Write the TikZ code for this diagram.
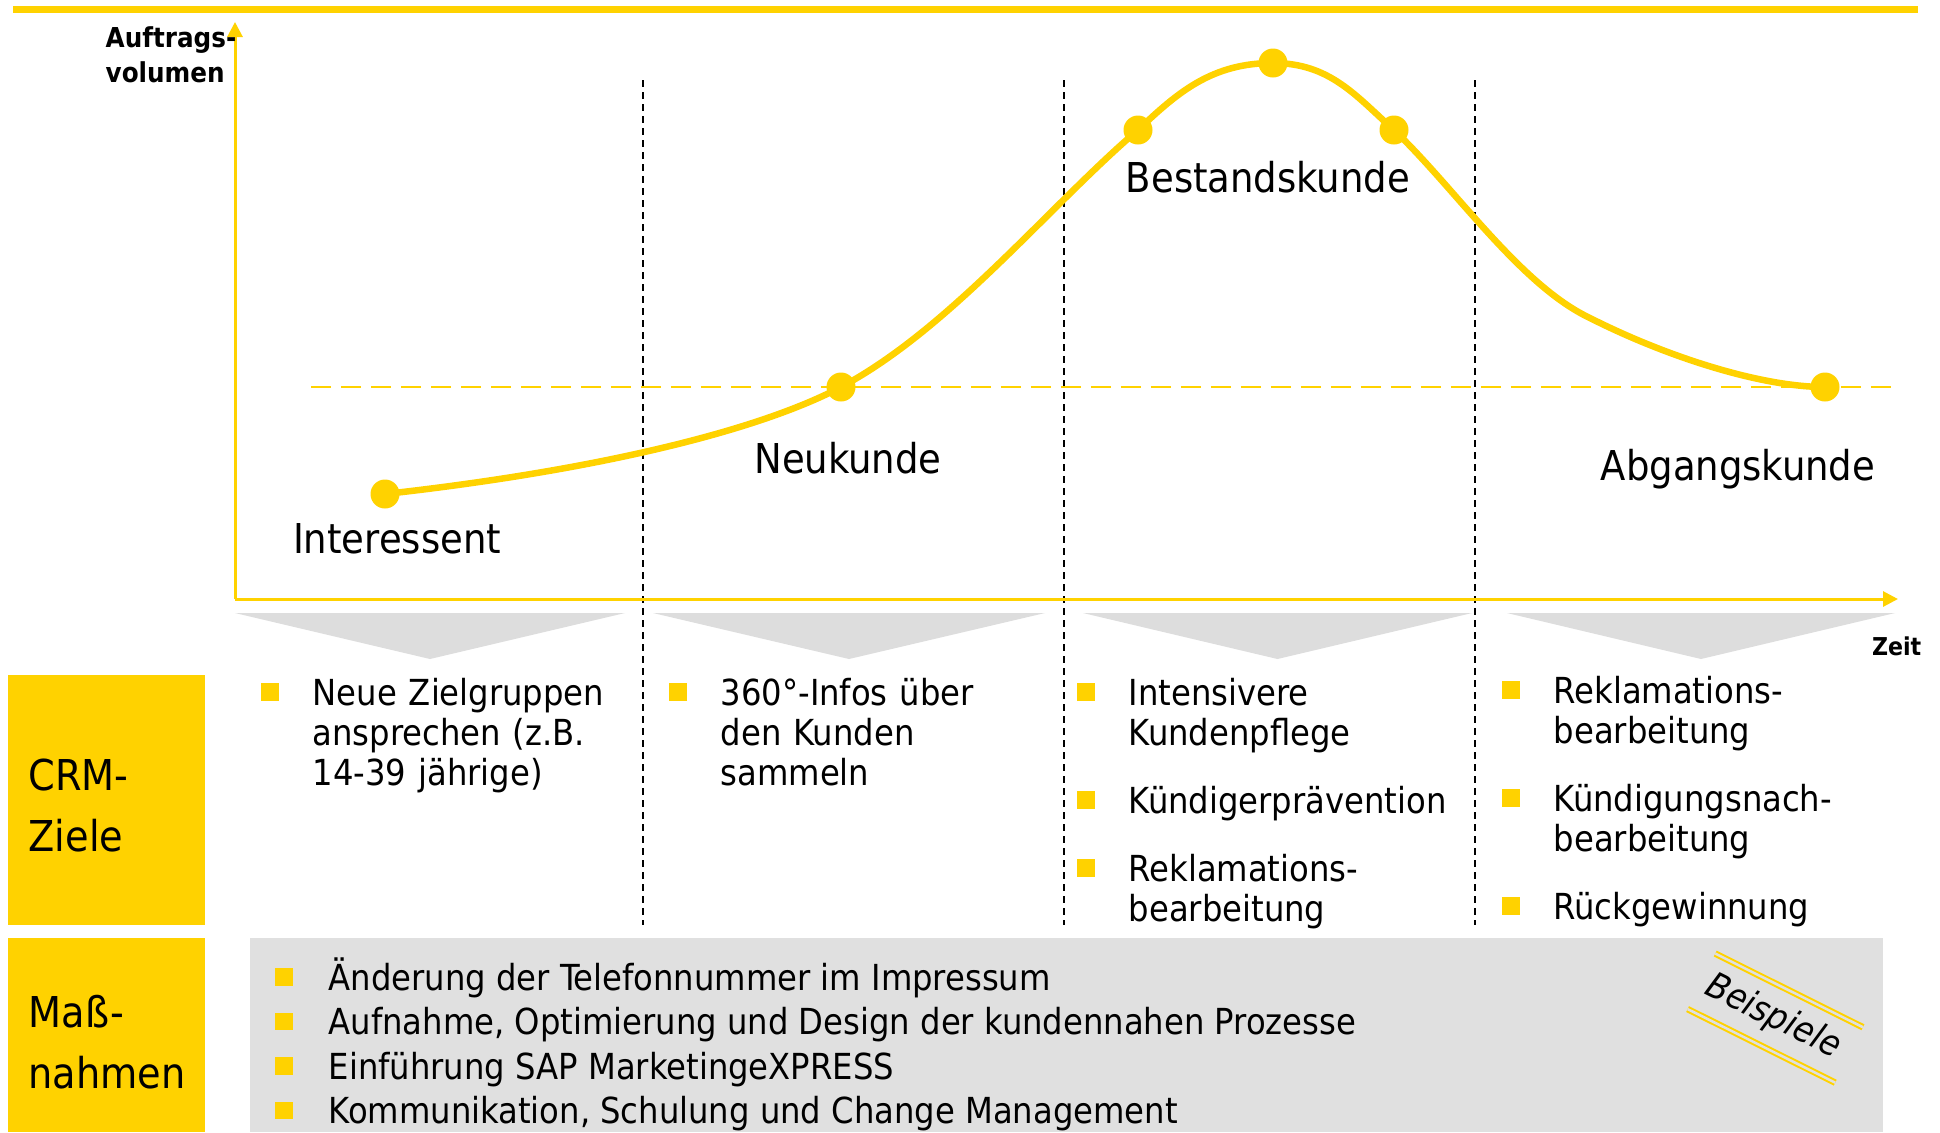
\documentclass[tikz,border=0pt]{standalone}
\usepackage{fontspec}
\setmainfont{DejaVu Sans Condensed}
\usetikzlibrary{arrows.meta}
\definecolor{crmgelb}{HTML}{FFD200}
\definecolor{crmgrau}{HTML}{E0E0E0}
\definecolor{pfeilgrau}{HTML}{DDDDDD}

\tikzset{
  achse/.style={crmgelb,line width=0.3mm,-{Triangle[length=1.5mm,width=1.5mm]}},
  kurve/.style={crmgelb,line width=0.65mm},
  punkt/.style={circle,fill=crmgelb,inner sep=0pt,minimum size=2.9mm},
  trenner/.style={black,line width=0.15mm,dash pattern=on 0.7mm off 0.5mm},
  phase/.style={inner sep=0pt,anchor=base,font=\fontsize{11.7}{14}\selectfont},
  quadrat/.style={fill=crmgelb,inner sep=0pt,minimum size=1.75mm},
  liste/.style={inner sep=0pt,anchor=base west,text width=45mm,align=left,
    font=\fontsize{10.2}{11.4}\selectfont},
  zeile/.style={inner sep=0pt,anchor=base west,font=\fontsize{10.2}{11.4}\selectfont},
  kasten/.style={inner sep=0pt,anchor=base west,text width=18mm,align=left,
    font=\fontsize{12.1}{17.4}\selectfont},
  achstext/.style={inner sep=0pt,font=\bfseries\fontsize{7.8}{10.2}\selectfont}
}

% Aufzaehlungspunkt mit Text: Name, x, Grundlinie, Text
\newcommand{\ziel}[4]{%
  \node[quadrat] (#1-q) at (#2-42,#3-13) {};
  \node[liste] (#1) at (#2,#3) {#4};
}

\begin{document}
\begin{tikzpicture}[x=0.1mm,y=-0.1mm]
  \useasboundingbox (0,0) rectangle (1940,1132);
  \fill[crmgelb] (13,6) rectangle (1918,13);

  \foreach \a/\b in {235/625,653/1045,1083/1472,1507/1895}
    \fill[pfeilgrau] (\a,613) -- (\b,613) -- ({(\a+\b)/2},659) -- cycle;

  \foreach \x in {643,1064,1475}
    \draw[trenner] (\x,80) -- (\x,925);
  \draw[crmgelb,line width=0.25mm,dash pattern=on 2mm off 1mm] (311,387) -- (1898,387);

  \coordinate (ursprung) at (235,599);
  \coordinate (yspitze) at (235,22);
  \coordinate (xspitze) at (1898,599);
  \draw[achse] (ursprung) -- (yspitze);
  \draw[achse] (ursprung) -- (xspitze);
  \node[achstext,anchor=base west,text width=20mm,align=left] (volumen) at (105,47) {Auftrags-\\volumen};
  \node[achstext,anchor=base east,font=\bfseries\fontsize{7}{9}\selectfont] (zeit) at (1922,655) {Zeit};

  % Kundenlebenszyklus
  \coordinate (k1) at (385,494);
  \coordinate (k2) at (841,387);
  \coordinate (k3) at (1138,130);
  \coordinate (k4) at (1273,63);
  \coordinate (k5) at (1394,130);
  \coordinate (k6) at (1825,387);
  \draw[kurve] (k1) .. controls (600,470) and (760,430) .. (k2)
    .. controls (950,329) and (1050,205) .. (k3)
    .. controls (1178,92) and (1212,63) .. (k4)
    .. controls (1330,63) and (1356,96) .. (k5)
    .. controls (1455,188) and (1520,285) .. (1590,318)
    .. controls (1665,356) and (1760,387) .. (k6);
  \foreach \k in {1,...,6}
    \node[punkt] (punkt\k) at (k\k) {};

  \node[phase] (interessent) at (397,553) {Interessent};
  \node[phase] (neukunde) at (848,473) {Neukunde};
  \node[phase] (bestand) at (1268,192) {Bestandskunde};
  \node[phase] (abgang) at (1738,480) {Abgangskunde};

  % CRM-Ziele
  \fill[crmgelb] (8,675) rectangle (205,925);
  \node[kasten] (crm) at (28,790) {CRM-\\Ziele};
  \ziel{z1}{312}{705}{Neue Zielgruppen\\ansprechen (z.B.\\14-39 jährige)}
  \ziel{z2}{720}{705}{360°-Infos über\\den Kunden\\sammeln}
  \ziel{z3}{1128}{705}{Intensivere\\Kundenpflege}
  \ziel{z4}{1128}{813}{Kündigerprävention}
  \ziel{z5}{1128}{881}{Reklamations-\\bearbeitung}
  \ziel{z6}{1553}{703}{Reklamations-\\bearbeitung}
  \ziel{z7}{1553}{811}{Kündigungsnach-\\bearbeitung}
  \ziel{z8}{1553}{919}{Rückgewinnung}

  % Massnahmen
  \fill[crmgelb] (8,938) rectangle (205,1132);
  \node[kasten] (massnahmen) at (28,1027) {Maß-\\nahmen};
  \fill[crmgrau] (250,938) rectangle (1883,1132);
  \foreach \t [count=\i] in {Änderung der Telefonnummer im Impressum,
      {Aufnahme, Optimierung und Design der kundennahen Prozesse},
      Einführung SAP MarketingeXPRESS,
      {Kommunikation, Schulung und Change Management}} {
    \node[quadrat] (m\i-q) at (284,{977+44.5*(\i-1)}) {};
    \node[zeile] (m\i) at (328,{990+44.5*(\i-1)}) {\t};
  }

  \begin{scope}[shift={(1773,1017)},rotate=-26.5]
    \draw[crmgelb,line width=0.2mm,double=crmgrau,double distance=0.25mm] (-80,-31) -- (85,-31);
    \draw[crmgelb,line width=0.2mm,double=crmgrau,double distance=0.25mm] (-80,31) -- (85,31);
    \node[inner sep=0pt,rotate=-26.5,font=\itshape\fontsize{10.2}{12}\selectfont] (beispiele) at (0,0) {Beispiele};
  \end{scope}
\end{tikzpicture}
\end{document}
